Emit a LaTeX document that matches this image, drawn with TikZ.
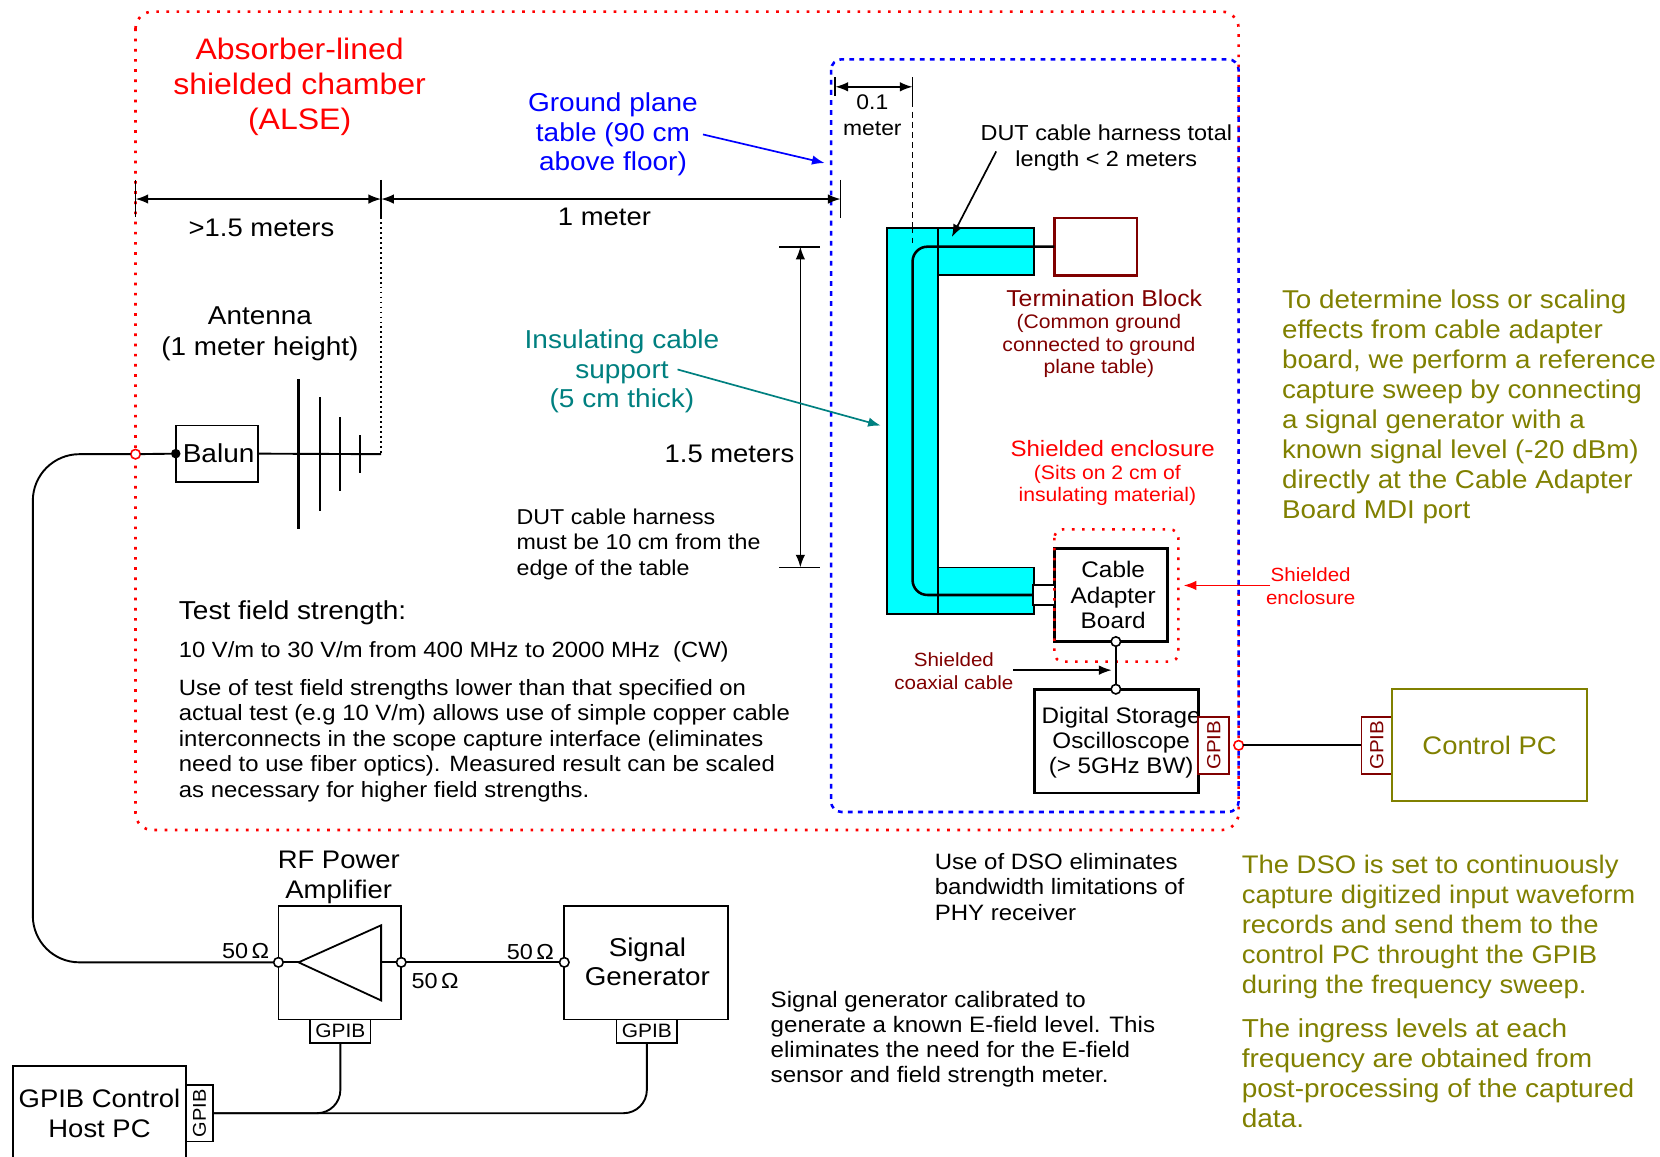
\documentclass[tikz,border=0pt]{standalone}
\usepackage{fontspec}
\setmainfont[FakeStretch=1.08]{Liberation Sans}
\usetikzlibrary{arrows.meta,calc}
\definecolor{dred}{RGB}{128,0,0}
\definecolor{olv}{RGB}{128,128,0}
\definecolor{teal2}{RGB}{0,128,128}
\definecolor{cyn}{RGB}{0,255,255}
\newcommand\fs[2]{\fontsize{#1}{#2}\selectfont}
\tikzset{
  x=1pt,y=-1pt,
  every node/.style={inner sep=0pt,outer sep=0pt},
  ln/.style={line width=1.8pt,black},
  box/.style={draw,line width=1.7pt,fill=white,align=center},
  thickbox/.style={draw,line width=2.6pt,fill=white,align=center},
  gpibd/.style={draw=dred,line width=1.8pt,fill=white,minimum width=29,minimum height=54},
  gpibk/.style={draw,line width=1.4pt,fill=white,minimum width=57,minimum height=22},
  port/.style={circle,draw,line width=1.5pt,fill=white,minimum size=9},
  rport/.style={circle,draw=red,line width=1.5pt,fill=white,minimum size=9},
  dim/.style={line width=1.6pt,{Latex[length=12,width=9]}-{Latex[length=12,width=9]}},
  arr/.style={line width=1.6pt,-{Latex[length=12,width=9]}},
  tick/.style={line width=1.7pt},
  dashln/.style={line width=1.6pt,dash pattern=on 5.5pt off 4pt},
  cyanblk/.style={draw,line width=1.8pt,fill=cyn},
  txt/.style={align=center},
  ltxt/.style={align=left,anchor=west},
}
\begin{document}
\begin{tikzpicture}
\useasboundingbox (0,0) rectangle (1568,1092);
% chamber and ground plane
\draw[red,line width=2.5pt,dash pattern=on 2.5pt off 7.1pt,rounded corners=16] (128,11) rectangle (1170,784);
\draw[blue,line width=2.4pt,dash pattern=on 4.5pt off 5pt,rounded corners=10] (785,56) rectangle (1170,767);
\node[red,txt,font=\fs{28}{33}] (alse) at (283,82) {Absorber-lined\\shielded chamber\\(ALSE)};
\node[blue,txt,font=\fs{24.5}{28}] (gp) at (579,127) {Ground plane\\table (90 cm\\above floor)};
\coordinate (gpt) at (779,154);
\draw[arr,blue] (664,127) -- (gpt);
% dimensions
\coordinate (t0) at (128,170); \coordinate (t0b) at (128,205);
\coordinate (t1) at (360,170); \coordinate (t1b) at (360,205);
\coordinate (t2) at (794,170); \coordinate (t2b) at (794,206);
\draw[tick] (t0) -- (t0b); \draw[tick] (t1) -- (t1b); \draw[tick] (t2) -- (t2b);
\draw[dim] (128,188) -- (360,188);
\draw[dim] (360,188) -- (794,188);
\node[txt,font=\fs{24}{28}] (d15) at (247,215) {>1.5 meters};
\node[txt,font=\fs{24}{28}] (d1) at (571,205) {1 meter};
% 0.1 meter
\coordinate (a0) at (789,73); \coordinate (a0b) at (789,91);
\coordinate (a1) at (862,73); \coordinate (a1b) at (862,232);
\draw[tick] (a0) -- (a0b);
\draw[tick] (a1) -- (862,96);
\draw[dashln] (862,96) -- (a1b);
\draw[dim] (789,82) -- (862,82);
\node[txt,font=\fs{20}{24}] (d01) at (824,109) {0.1\\meter};
% table
\node[cyanblk,minimum width=91,minimum height=45,anchor=north west] (armt) at (886,215) {};
\node[cyanblk,minimum width=91,minimum height=44,anchor=north west] (armb) at (886,536) {};
\node[cyanblk,minimum width=48,minimum height=365,anchor=north west] (vert) at (838,215) {};
\draw[dashln] (862,215) -- (a1b);
% termination
\node[draw=dred,line width=2.4pt,fill=white,minimum width=78,minimum height=54] (term) at (1035,233) {};
\node[thickbox,minimum width=107,minimum height=88] (cab) at (1049.5,562) {};
\node[txt,font=\fs{21.3}{24}] (cabt) at (1051.5,562) {Cable\\Adapter\\Board};
\node[draw,line width=1.8pt,fill=white,minimum width=20,minimum height=19,anchor=east] (sm) at (cab.west) {};
\coordinate (cb) at (sm.west);
\draw[line width=2.4pt,rounded corners=14] (term.west) -| (862,400) |- (cb);
% harness label
\node[txt,font=\fs{20.5}{24}] (dut) at (1045,139.5) {DUT cable harness total\\length < 2 meters};
\coordinate (dutt) at (899,224);
\draw[arr] (941,143) -- (dutt);
\node[dred,txt,font=\fs{21.7}{24}] (tb) at (1043,282) {Termination Block};
\node[dred,txt,font=\fs{18.5}{21.3}] (tb2) at (1038,327) {(Common ground\\connected to ground\\plane table)};
\node[red,txt,font=\fs{21}{24}] (se) at (1051,424) {Shielded enclosure};
\node[red,txt,font=\fs{18.5}{20.5}] (se2) at (1046,458.5) {(Sits on 2 cm of\\insulating material)};
\draw[red,line width=2.4pt,dash pattern=on 2.4pt off 7.1pt,rounded corners=8] (996,500) rectangle (1113,625);
\node[red,txt,font=\fs{18}{22}] (se3) at (1238,554) {Shielded\\enclosure};
\coordinate (set) at (1118,553);
\draw[arr,red] (1200,553) -- (set);
\node[dred,txt,font=\fs{18}{22}] (coax) at (901,634) {Shielded\\coaxial cable};
% DSO
\node[thickbox,minimum width=155,minimum height=98,anchor=north west] (dso) at (977,651) {};
\node[txt,font=\fs{21.2}{24}] (dsot) at (1059,701.5) {Digital Storage\\Oscilloscope\\(> 5GHz BW)};
\node[port] (p1) at (1054,606) {};
\node[port] (p2) at (1054,651) {};
\draw[ln] (p1) -- (p2);
\coordinate (coaxt) at (1050,633);
\draw[arr,line width=1.3pt] (957,633) -- (coaxt);
\node[gpibd,anchor=west] (g1) at (1132,704) {};
\node[dred,rotate=90,font=\fs{18}{20}] at (g1.center) {GPIB};
\node[rport] (rp) at (1170,704) {};
\node[gpibd,anchor=east] (g2) at (1315,704) {};
\node[dred,rotate=90,font=\fs{18}{20}] at (g2.center) {GPIB};
\draw[ln] (rp) -- (g2.west);
\node[draw=olv,line width=1.8pt,minimum width=184,minimum height=106,anchor=north west,text=olv,font=\fs{24}{28}] (pc) at (1315,651) {Control PC};
% vertical dim
\coordinate (v0) at (736,233); \coordinate (v0b) at (775,233);
\coordinate (v1) at (736,536); \coordinate (v1b) at (775,536);
\draw[tick] (v0) -- (v0b); \draw[tick] (v1) -- (v1b);
\draw[dim] (756,233) -- (756,536);
\node[txt,font=\fs{24}{28}] (d15m) at (689,429) {1.5 meters};
% insulating
\node[teal2,txt,font=\fs{24.5}{28}] (ins) at (587.5,351) {Insulating cable\\support\\(5 cm thick)};
\coordinate (inst) at (832,402);
\draw[arr,teal2] (640,349) -- (inst);
\node[ltxt,font=\fs{20.3}{24}] (dut2) at (488,514) {DUT cable harness\\must be 10 cm from the\\edge of the table};
% antenna
\node[txt,font=\fs{24.4}{29}] (ant) at (245.5,315.5) {Antenna\\(1 meter height)};
\node[box,minimum width=78,minimum height=53] (bal) at (205,428.5) {};
\node[font=\fs{24.5}{28}] (balt) at (206.5,428.5) {Balun};
\coordinate (ae) at (360,429);
\draw[ln] (bal.east) -- (ae);
\draw[line width=1.7pt,dash pattern=on 1.7pt off 3pt] (t1b) -- (ae);
\draw[line width=2.2pt] (282,358) -- (282,500);
\draw[line width=1.8pt] (302,375) -- (302,483);
\draw[line width=2.2pt] (321,394) -- (321,464);
\draw[line width=1.8pt] (340,411) -- (340,447);
\node[rport] (rq) at (128,429) {};
\node[circle,fill=black,minimum size=9] (dot) at (bal.west) {};
\draw[ln] (rq) -- (dot);
% test text
\node[ltxt,font=\fs{24.5}{28}] (tf) at (169,579) {Test field strength:};
\node[ltxt,font=\fs{20.8}{24}] (tf2) at (169,616) {10 V/m to 30 V/m from 400 MHz to 2000 MHz\ \ (CW)};
\node[ltxt,font=\fs{20.9}{24}] (tf3) at (169,699.5) {Use of test field strengths lower than that specified on\\actual test (e.g 10 V/m) allows use of simple copper cable\\interconnects in the scope capture interface (eliminates\\need to use fiber optics). Measured result can be scaled\\as necessary for higher field strengths.};
% right texts
\node[ltxt,olv,font=\fs{24.3}{28.4}] (r1) at (1211,384.5) {To determine loss or scaling\\effects from cable adapter\\board, we perform a reference\\capture sweep by connecting\\a signal generator with a\\known signal level (-20 dBm)\\directly at the Cable Adapter\\Board MDI port};
\node[ltxt,olv,font=\fs{24}{28.4}] (r2) at (1173,875.5) {The DSO is set to continuously\\capture digitized input waveform\\records and send them to the\\control PC throught the GPIB\\during the frequency sweep.};
\node[ltxt,olv,font=\fs{24.5}{28.4}] (r3) at (1173,1013.5) {The ingress levels at each\\frequency are obtained from\\post-processing of the captured\\data.};
\node[ltxt,font=\fs{21}{24}] (u1) at (883,837.5) {Use of DSO eliminates\\bandwidth limitations of\\PHY receiver};
\node[ltxt,font=\fs{21.1}{23.5}] (u2) at (728,981.5) {Signal generator calibrated to\\generate a known E-field level. This\\eliminates the need for the E-field\\sensor and field strength meter.};
% RF section
\node[box,minimum width=116,minimum height=107,anchor=north west] (amp) at (263,856) {};
\node[txt,font=\fs{24}{28}] (ampt) at (320,829) {RF Power\\Amplifier};
\coordinate (tria) at (282,909); \coordinate (trib) at (360,909);
\draw[line width=1.7pt,line join=miter] (tria) -- (360,874) -- (360,945) -- cycle;
\node[box,minimum width=155,minimum height=107,anchor=north west] (sig) at (533,856) {};
\node[txt,font=\fs{24.3}{28}] (sigt) at (611.5,908.5) {Signal\\Generator};
\node[port] (a1p) at (263,909) {};
\node[port] (a2p) at (379,909) {};
\node[port] (sp) at (533,909) {};
\draw[ln] (a1p) -- (tria);
\draw[ln] (trib) -- (a2p);
\draw[ln] (a2p) -- (sp);
\draw[ln,rounded corners=44] (rq.west) -| (31,650) |- (a1p.west);
\node[font=\fs{20.5}{24}] (o1) at (232,898) {50\,Ω};
\node[font=\fs{20.5}{24}] (o2) at (501,899) {50\,Ω};
\node[font=\fs{20.5}{24}] (o3) at (411,927) {50\,Ω};
\node[gpibk,font=\fs{18.3}{22}] (ga) at (321.5,974) {GPIB};
\node[gpibk,font=\fs{18.3}{22}] (gs) at (611,974) {GPIB};
\node[box,minimum width=164,minimum height=95,anchor=north west] (host) at (12,1007) {};
\node[txt,font=\fs{24}{28}] (hostt) at (94,1051.5) {GPIB Control\\Host PC};
\node[draw,line width=1.4pt,fill=white,minimum width=25,minimum height=53,anchor=west] (gh) at (176,1051.5) {};
\node[rotate=90,font=\fs{17.5}{20}] at (gh.center) {GPIB};
\draw[ln,rounded corners=22] (ga.south) |- (gh.east);
\draw[ln,rounded corners=22] (gs.south) |- (gh.east);
\end{tikzpicture}
\end{document}
